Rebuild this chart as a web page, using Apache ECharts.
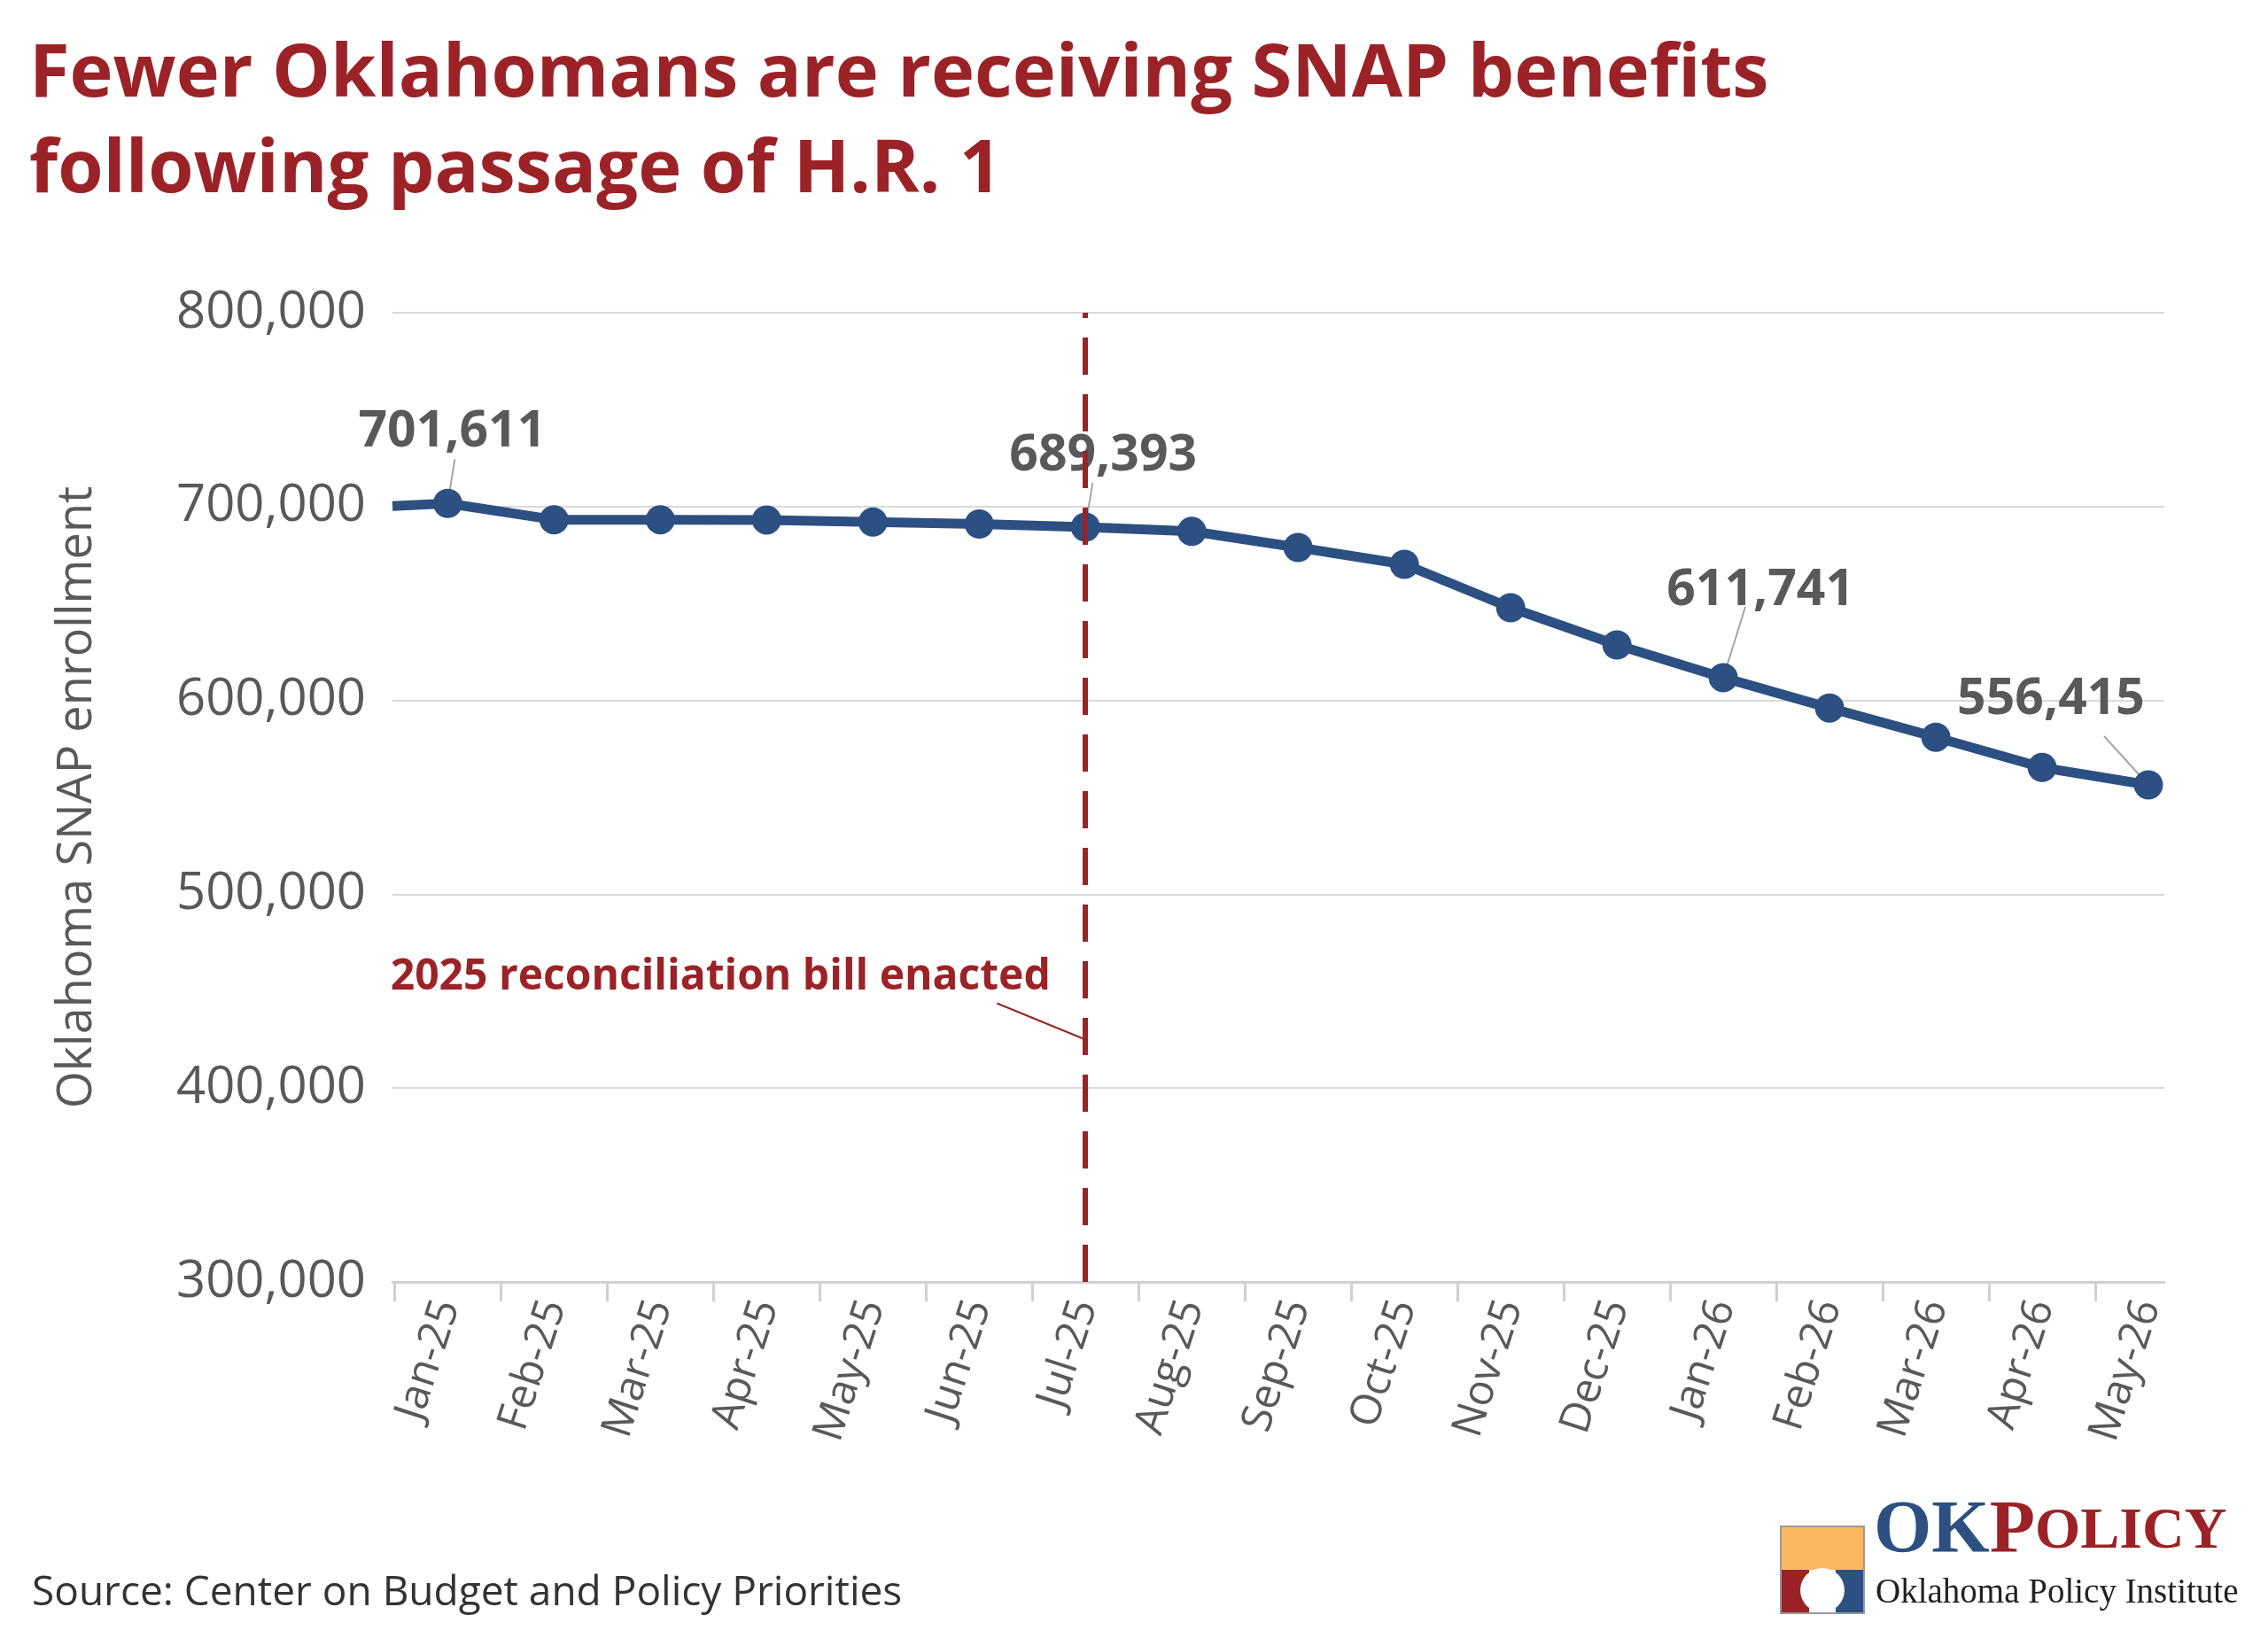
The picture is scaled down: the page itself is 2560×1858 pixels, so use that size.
<!DOCTYPE html>
<html><head><meta charset="utf-8">
<script src="https://cdn.jsdelivr.net/npm/echarts@6/dist/echarts.min.js"></script>
<style>html,body{margin:0;padding:0;background:#fff}#c{width:2560px;height:1858px}</style>
</head><body><div id="c"></div>
<script>
const months = ['Jan-25','Feb-25','Mar-25','Apr-25','May-25','Jun-25','Jul-25','Aug-25','Sep-25','Oct-25','Nov-25','Dec-25','Jan-26','Feb-26','Mar-26','Apr-26','May-26'];
const enrollment = [701611,693200,693200,693100,692000,691000,689393,687200,678900,670200,647800,628600,611741,596100,581000,565400,556415];
const leadInValue = 700300;
const labeledIdx = [0,6,12,16];
const yTicks = [300000,400000,500000,600000,700000,800000];

const chart = echarts.init(document.getElementById('c'));
const fmt = v => v.toLocaleString('en-US');
const data = [{value:[-0.52, leadInValue], symbol:'none'}].concat(enrollment.map((v,i)=>[i,v]));
const red = '#9b2226', grey='#595959', blue='#2b5081';
chart.setOption({
  animation:false,
  textStyle:{fontFamily:'Open Sans'},
  grid:{left:443,right:117,top:353,bottom:411},
  title:{text:'Fewer Oklahomans are receiving SNAP benefits\nfollowing passage of H.R. 1',left:28,top:26,
    textStyle:{fontFamily:'Open Sans',fontWeight:'bold',fontSize:83,color:red,lineHeight:108}},
  xAxis:{type:'value',min:-0.52,max:16.15,
    axisLine:{lineStyle:{color:'#d0d0d0',width:3}},
    axisTick:{show:true,length:22,lineStyle:{color:'#d0d0d0',width:3},customValues:[-0.5,0.5,1.5,2.5,3.5,4.5,5.5,6.5,7.5,8.5,9.5,10.5,11.5,12.5,13.5,14.5,15.5]},
    axisLabel:{customValues:months.map((m,i)=>i),formatter:v=>months[Math.round(v)],rotate:72,fontSize:48,color:grey,margin:22},
    splitLine:{show:false}},
  yAxis:{type:'value',min:yTicks[0],max:yTicks[yTicks.length-1],interval:100000,
    name:'Oklahoma SNAP enrollment',nameLocation:'middle',nameGap:328,nameRotate:90,
    nameTextStyle:{fontSize:54,color:grey},
    axisLine:{show:false},axisTick:{show:false},
    axisLabel:{formatter:fmt,fontSize:58,color:grey,margin:30},
    splitLine:{lineStyle:{color:'#d9d9d9',width:2}}},
  series:[{type:'line',data:data,symbol:'circle',symbolSize:33,
    lineStyle:{color:blue,width:11},itemStyle:{color:blue},
    markLine:{silent:true,symbol:'none',label:{show:false},
      lineStyle:{color:red,type:[42,22],width:6},data:[{xAxis:6}]}}]
});

const px = (x,y)=>chart.convertToPixel({gridIndex:0},[x,y]);
const offs = {0:[5,-52],6:[20,-52],12:[42,-70],16:[-110,-68]};
const lineEnds = {0:[8,-50],6:[8,-50],12:[25,-80],16:[-50,-55]};
const g=[];
labeledIdx.forEach(i=>{
  const p=px(i,enrollment[i]);
  const o=offs[i], le=lineEnds[i];
  g.push({type:'line',shape:{x1:p[0],y1:p[1],x2:p[0]+le[0],y2:p[1]+le[1]},style:{stroke:'#a6a6a6',lineWidth:2}});
  g.push({type:'text',x:p[0]+o[0],y:p[1]+o[1],style:{text:fmt(enrollment[i]),font:'bold 57px "Open Sans"',fill:grey,textAlign:'center',textVerticalAlign:'bottom'}});
});
const jp=px(6,425000);
g.push({type:'text',x:jp[0]-412,y:jp[1]-70,style:{text:'2025 reconciliation bill enacted',font:'bold 48px "Open Sans"',fill:red,textAlign:'center',textVerticalAlign:'middle'}});
g.push({type:'line',shape:{x1:jp[0]-100,y1:jp[1]-41,x2:jp[0],y2:jp[1]},style:{stroke:red,lineWidth:2}});
g.push({type:'text',left:36,top:1776,style:{text:'Source: Center on Budget and Policy Priorities',font:'46px "Open Sans"',fill:'#333'}});
// logo
g.push({type:'rect',shape:{x:2010,y:1723,width:94,height:49},style:{fill:'#fbb861'}});
g.push({type:'rect',shape:{x:2010,y:1772,width:32,height:49},style:{fill:'#9b2226'}});
g.push({type:'rect',shape:{x:2072,y:1772,width:32,height:49},style:{fill:blue}});
g.push({type:'circle',shape:{cx:2057,cy:1795,r:25},style:{fill:'#fff'}});
g.push({type:'rect',shape:{x:2010,y:1723,width:94,height:98},style:{fill:'none',stroke:'#999',lineWidth:2}});
g.push({type:'text',x:2115,y:1772,style:{rich:{a:{fill:blue,font:'bold 84px "Liberation Serif"'},b:{fill:red,font:'bold 84px "Liberation Serif"'},c:{fill:red,font:'bold 66px "Liberation Serif"'}},text:'{a|OK}{b|P}{c|OLICY}',textVerticalAlign:'bottom'}});
g.push({type:'text',x:2117,y:1818,style:{text:'Oklahoma Policy Institute',font:'39px "Liberation Serif"',fill:'#222',textVerticalAlign:'bottom'}});
chart.setOption({graphic:g});
</script></body></html>
